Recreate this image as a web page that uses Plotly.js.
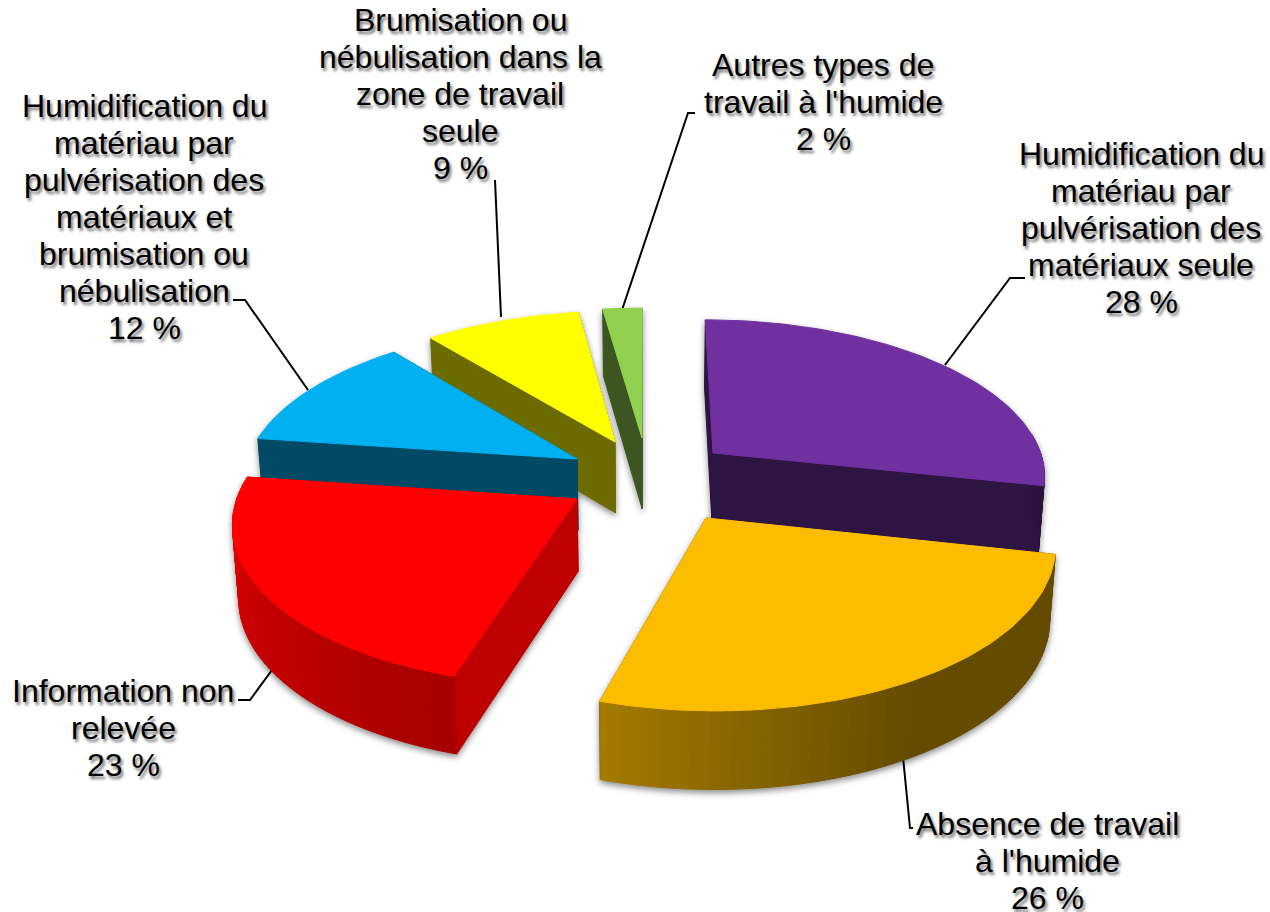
<!DOCTYPE html>
<html lang="fr">
<head>
<meta charset="utf-8">
<script src="https://cdn.plot.ly/plotly-3.0.1.min.js"></script>
<style>
html,body{margin:0;padding:0;background:#fff}
#chart{width:1270px;height:912px}
.scatterlayer{filter:drop-shadow(0 3px 3px rgba(0,0,0,.45))}
</style>
</head>
<body>
<div id="chart"></div>
<script>
// ---------- data ----------
const categories = [
  "Humidification du<br>matériau par<br>pulvérisation des<br>matériaux seule",
  "Absence de travail<br>à l'humide",
  "Information non<br>relevée",
  "Humidification du<br>matériau par<br>pulvérisation des<br>matériaux et<br>brumisation ou<br>nébulisation",
  "Brumisation ou<br>nébulisation dans la<br>zone de travail<br>seule",
  "Autres types de<br>travail à l'humide"
];
// shares; the labels show them rounded
const values = [28.4, 26.3, 22.5, 11.9, 8.7, 2.2];

// ---------- styles ----------
const topColors = [[112,48,160],[252,188,0],[255,0,0],[0,176,240],[255,255,0],[146,208,80]];
const faceShade = [0.41, 0.41, 0.75, 0.42, 0.42, 0.41];
const drawOrder = [5, 4, 0, 3, 1, 2];
// top-surface apex of each exploded slice, in pixels
const apexX = [713, 706, 577, 577, 615, 642];
const apexY = [453, 518, 499, 459, 442, 438];
// label anchors
const labelX = [1141, 1047, 123, 144, 460, 823];
const labelY = [228, 861, 728, 217, 94, 102];
const LINE_PITCH = 36.9, FONT_SIZE = 32;
// leader polylines "x,y x,y ..."
const leaders = [
  "1025,278 1010,278 945,365",
  "913,828 910,828 903,757",
  "238,700 250,700 272,670",
  "233,300 245,300 308,390",
  "495,180 501,317",
  "695,113 688,113 622,310"
];

// ---------- projection (perspective of the pie plane) ----------
const X0 = 645, Y0 = 480, A = 335, B = 157, P = 0.13, HGT = 72, VX = 650, LEAN = 0.015;
function project(X, Y, low) {
  const w = 1 / (1 + P * Y);
  let sx = X0 + A * X * w, sy = Y0 - B * Y * w;
  if (low) { sx += LEAN * (VX - sx); sy += HGT * Math.sqrt(w); }
  return [sx, sy];
}
function unproject(sx, sy) {
  const q = Y0 - sy, Y = q / (B - P * q), w = 1 / (1 + P * Y);
  return [(sx - X0) / (A * w), Y];
}
function shadeAt(deg) {
  if (deg <= 150) return 0.4;
  if (deg <= 197) return 0.4 + 0.25 * (deg - 150) / 47;
  return Math.min(0.84, 0.65 + 0.19 * (deg - 197) / 65);
}
const rgb = (c, f) => `rgb(${Math.round(c[0]*f)},${Math.round(c[1]*f)},${Math.round(c[2]*f)})`;

function poly(pts, color, hover) {
  return {
    type: "scatter", mode: "lines", fill: "toself", fillcolor: color,
    x: pts.map(p => p[0]), y: pts.map(p => p[1]),
    line: {color: color, width: 1}, showlegend: false,
    hoverinfo: hover ? "text" : "skip", text: hover || undefined, hoveron: "fills"
  };
}

const total = values.reduce((a, b) => a + b, 0);
const starts = [];
values.reduce((acc, v, i) => { starts[i] = acc; return acc + v; }, 0);
const shown = v => Math.round(v) + " %";

const traces = [];
drawOrder.forEach(i => {
  const a0 = starts[i] / total * 360, a1 = (starts[i] + values[i]) / total * 360;
  const [cx, cy] = unproject(apexX[i], apexY[i]);
  const pt = (deg, low) => {
    const r = deg * Math.PI / 180;
    return project(cx + Math.sin(r), cy + Math.cos(r), low);
  };
  const apexTop = project(cx, cy, false), apexLow = project(cx, cy, true);
  const n = Math.ceil((a1 - a0) / 1.5), step = (a1 - a0) / n;
  // radial faces
  const face = rgb(topColors[i], faceShade[i]);
  [a0, a1].forEach(d => traces.push(poly(
    [apexTop, pt(d,false), pt(d,true), apexLow, apexTop], face)));
  // outer curved wall, in shaded strips, only where it faces the viewer
  for (let k = 0; k < n; k++) {
    const d0 = a0 + k * step, d1 = d0 + step, mid = (d0 + d1) / 2;
    if (Math.cos(mid * Math.PI / 180) > 0.12) continue;
    traces.push(poly([pt(d0,false), pt(d1,false), pt(d1,true), pt(d0,true), pt(d0,false)],
      rgb(topColors[i], shadeAt(mid))));
  }
  // top surface
  const top = [apexTop];
  for (let k = 0; k <= n; k++) top.push(pt(a0 + k * step, false));
  top.push(apexTop);
  traces.push(poly(top, rgb(topColors[i], 1),
    categories[i].replace(/<br>/g, " ") + " : " + shown(values[i])));
});

const annotations = [];
categories.forEach((c, i) => {
  const lines = c.split("<br>").concat(shown(values[i]));
  lines.forEach((line, k) => annotations.push({
    text: line,
    x: labelX[i], y: labelY[i] + (k - (lines.length - 1) / 2) * LINE_PITCH,
    xref: "x", yref: "y", xanchor: "center", yanchor: "middle", showarrow: false,
    font: {family: "Liberation Sans, Arial, sans-serif", size: FONT_SIZE, color: "#000",
           shadow: "2px 3px 3px rgba(0,0,0,0.55)"}
  }));
});

const shapes = leaders.map(s => {
  const p = s.split(" ");
  return {type: "path", xref: "x", yref: "y", layer: "below",
    path: "M" + p.join("L"), line: {color: "#000", width: 2}};
});

Plotly.newPlot("chart", traces, {
  width: 1270, height: 912,
  margin: {l: 0, r: 0, t: 0, b: 0},
  paper_bgcolor: "#fff", plot_bgcolor: "#fff",
  showlegend: false, hovermode: "closest",
  xaxis: {range: [0, 1270], visible: false, fixedrange: true},
  yaxis: {range: [912, 0], visible: false, fixedrange: true},
  annotations, shapes
}, {displayModeBar: false});
</script>
</body>
</html>
